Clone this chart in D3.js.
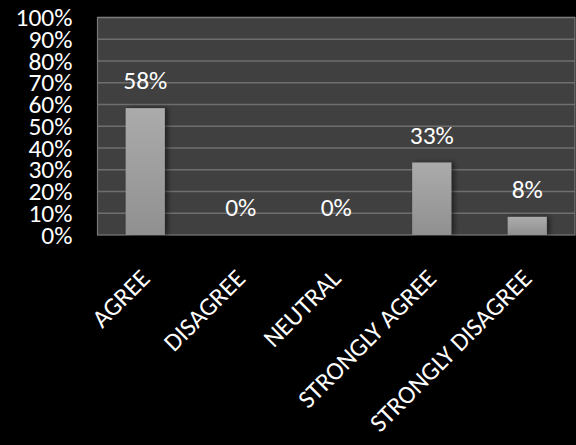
<!DOCTYPE html>
<html>
<head>
<meta charset="utf-8">
<script src="https://cdn.jsdelivr.net/npm/d3@7"></script>
<style>
html,body{margin:0;padding:0;background:#000;}
svg{display:block;}
text{font-family:Carlito,Calibri,sans-serif;fill:#fff;}
</style>
</head>
<body>
<svg id="chart" width="576" height="445"></svg>
<script>
const categories = ["AGREE", "DISAGREE", "NEUTRAL", "STRONGLY AGREE", "STRONGLY DISAGREE"];
const values = [0.5833, 0, 0, 0.3333, 0.0833];
const valueLabels = ["58%", "0%", "0%", "33%", "8%"];
const yTicks = [0, 0.1, 0.2, 0.3, 0.4, 0.5, 0.6, 0.7, 0.8, 0.9, 1.0];

const FONT = 'Carlito,Calibri,sans-serif';
const FS = 25.5;
const svg = d3.select("#chart");
const W = 576, H = 445;
const m = {left: 97.5, top: 17.5, right: 1};
const pw = W - m.left - m.right, ph = 235 - m.top;

svg.append("rect").attr("width", W).attr("height", H).attr("fill", "#000");

const defs = svg.append("defs");
const grad = defs.append("linearGradient").attr("id", "barGrad")
  .attr("x1", 0).attr("y1", 0).attr("x2", 0).attr("y2", 1);
grad.append("stop").attr("offset", "0%").attr("stop-color", "#ababab");
grad.append("stop").attr("offset", "100%").attr("stop-color", "#909090");
const filt = defs.append("filter").attr("id", "shadow").attr("x", "-20%").attr("y", "-20%").attr("width", "160%").attr("height", "140%");
filt.append("feDropShadow").attr("dx", 3).attr("dy", 0).attr("stdDeviation", 2.5).attr("flood-color", "#000").attr("flood-opacity", 0.5);

const x = d3.scaleBand().domain(categories).range([0, pw]).paddingInner(0.59).paddingOuter(0.295);
const y = d3.scaleLinear().domain([0, 1]).range([ph, 0]);

const g = svg.append("g").attr("transform", `translate(${m.left},${m.top})`);

g.append("rect").attr("width", pw).attr("height", ph).attr("fill", "#404040");

// gridlines
g.append("g").selectAll("line").data(yTicks.slice(1)).join("line")
  .attr("x1", 0).attr("x2", pw)
  .attr("y1", d => y(d)).attr("y2", d => y(d))
  .attr("stroke", "#6e6e6e").attr("stroke-width", 1.5);

// border
g.append("rect").attr("width", pw).attr("height", ph).attr("fill", "none")
  .attr("stroke", "#7a7a7a").attr("stroke-width", 1.2);

// bars
g.append("g").selectAll("rect").data(values).join("rect")
  .attr("x", (d, i) => x(categories[i]))
  .attr("y", d => y(d))
  .attr("width", x.bandwidth())
  .attr("height", d => ph - y(d))
  .attr("fill", "url(#barGrad)")
  .attr("filter", "url(#shadow)");

// value labels
g.append("g").selectAll("text").data(values).join("text")
  .attr("x", (d, i) => x(categories[i]) + x.bandwidth() / 2)
  .attr("y", d => y(d) - 19)
  .attr("text-anchor", "middle")
  .attr("font-size", FS)
  .style("font-family", FONT)
  .text((d, i) => valueLabels[i]);

// y axis
const yAxis = d3.axisLeft(y).tickValues(yTicks).tickFormat(d3.format(".0%")).tickSize(0).tickPadding(0);
const ya = svg.append("g").attr("transform", `translate(${m.left - 25},${m.top})`).call(yAxis);
ya.attr("font-family", null).attr("font-size", null);
ya.select(".domain").remove();
ya.selectAll("text").attr("font-size", FS).attr("fill", "#fff").attr("dy", "0.32em")
  .style("font-family", FONT);

// x axis
const xAxis = d3.axisBottom(x).tickSize(0).tickPadding(0);
const xa = svg.append("g").attr("transform", `translate(${m.left},${m.top + ph})`).call(xAxis);
xa.attr("font-family", null).attr("font-size", null);
xa.select(".domain").remove();
xa.selectAll("text")
  .attr("font-size", FS)
  .attr("fill", "#fff")
  .attr("text-anchor", "end")
  .attr("y", 0).attr("dy", 0)
  .attr("transform", "translate(6,45) rotate(-45)")
  .style("font-family", FONT);
</script>
</body>
</html>
